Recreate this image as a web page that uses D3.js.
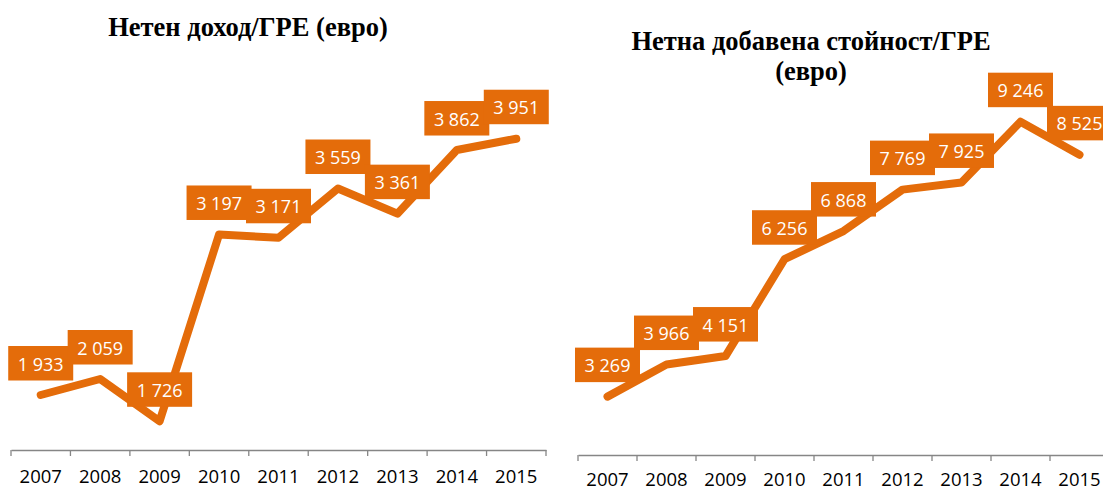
<!DOCTYPE html>
<html>
<head>
<meta charset="utf-8">
<script src="https://cdn.jsdelivr.net/npm/d3@7"></script>
<style>
  body { margin: 0; background: #fff; }
  svg { display: block; }
</style>
</head>
<body>
<svg id="chart" width="1103" height="491"></svg>
<script>
// values
const years = ["2007", "2008", "2009", "2010", "2011", "2012", "2013", "2014", "2015"];
const netIncome = [1933, 2059, 1726, 3197, 3171, 3559, 3361, 3862, 3951];
const netValueAdded = [3269, 3966, 4151, 6256, 6868, 7769, 7925, 9246, 8525];

const orange = "#E46C0A";
const svg = d3.select("#chart");
const fmt = v => d3.format(",")(v).replace(/,/g, " ");

function drawChart(cfg) {
    const g = svg.append("g");

    const x = d3.scaleBand()
        .domain(years)
        .range(cfg.xRange)
        .padding(0);

    const y = d3.scaleLinear()
        .domain(cfg.yDomain)
        .range(cfg.yRange);

    const cx = d => x(d.year) + x.bandwidth() / 2;
    const data = years.map((yr, i) => ({year: yr, value: cfg.values[i]}));

    // title
    const title = g.append("text")
        .attr("text-anchor", "middle")
        .attr("font-family", "'Liberation Serif', 'Times New Roman', serif")
        .attr("font-weight", "bold")
        .attr("font-size", 26.5)
        .attr("fill", "#000");
    cfg.title.forEach((t, i) => {
        title.append("tspan")
            .attr("x", cfg.titleX)
            .attr("y", cfg.titleY + i * 30)
            .text(t);
    });

    // category axis
    const axisY = cfg.yRange[0];
    const axis = g.append("g")
        .attr("transform", `translate(0,${axisY})`)
        .call(d3.axisBottom(x).tickSize(0).tickPadding(0));
    axis.select(".domain").attr("stroke", "#868686").attr("stroke-width", 1.3);
    axis.selectAll(".tick text")
        .attr("y", cfg.labelBaseline - axisY)
        .attr("dy", 0)
        .attr("font-family", "'Open Sans', sans-serif")
        .attr("font-size", 18.5)
        .attr("fill", "#000");

    // boundary tick marks
    const bounds = years.map(d => x(d)).concat([cfg.xRange[1]]);
    g.selectAll(".bound")
        .data(bounds)
        .enter()
        .append("line")
        .attr("class", "bound")
        .attr("x1", d => d).attr("x2", d => d)
        .attr("y1", axisY).attr("y2", axisY + 6)
        .attr("stroke", "#868686")
        .attr("stroke-width", 1.3);

    // line
    const line = d3.line()
        .x(cx)
        .y(d => y(d.value));

    g.append("path")
        .datum(data)
        .attr("d", line)
        .attr("fill", "none")
        .attr("stroke", orange)
        .attr("stroke-width", 8)
        .attr("stroke-linecap", "round")
        .attr("stroke-linejoin", "round");

    // data labels
    const boxW = 65, boxH = 34.5, gap = 14.5;
    const lab = g.selectAll(".lab")
        .data(data)
        .enter()
        .append("g")
        .attr("class", "lab");

    lab.append("rect")
        .attr("x", d => cx(d) - boxW / 2)
        .attr("y", d => y(d.value) - gap - boxH)
        .attr("width", boxW)
        .attr("height", boxH)
        .attr("fill", orange);

    lab.append("text")
        .attr("x", cx)
        .attr("y", d => y(d.value) - gap - 10)
        .attr("text-anchor", "middle")
        .attr("font-family", "'Open Sans', sans-serif")
        .attr("font-size", 18)
        .attr("fill", "#fff")
        .text(d => fmt(d.value));
}

drawChart({
    values: netIncome,
    title: ["Нетен доход/ГРЕ (евро)"],
    titleX: 248,
    titleY: 36,
    xRange: [11, 546],
    yDomain: [1500, 4500],
    yRange: [450, 69],
    labelBaseline: 483
});

drawChart({
    values: netValueAdded,
    title: ["Нетна добавена стойност/ГРЕ", "(евро)"],
    titleX: 811,
    titleY: 50,
    xRange: [578, 1109],
    yDomain: [2000, 10000],
    yRange: [455, 87],
    labelBaseline: 486
});
</script>
</body>
</html>
